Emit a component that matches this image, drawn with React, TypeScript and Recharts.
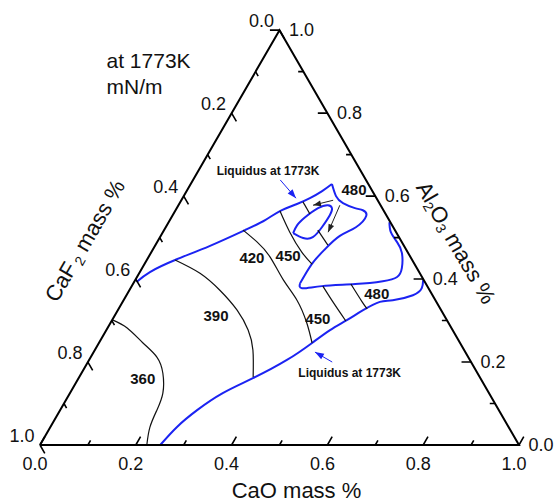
import { ComposedChart, Line, Scatter, XAxis, YAxis } from "recharts";

// [CaO, Al2O3] mass fractions, CaF2 = 1 - CaO - Al2O3
type Comp = [number, number];

const TICK_VALUES = [0, 0.1, 0.2, 0.3, 0.4, 0.5, 0.6, 0.7, 0.8, 0.9, 1.0];
const TICK_LABELS = [0, 0.2, 0.4, 0.6, 0.8, 1.0];

// liquidus at 1773K
const liquidusLower: Comp[] = [
  [0.251, 0], [0.264, 0.043], [0.286, 0.084], [0.319, 0.125], [0.364, 0.161],
  [0.413, 0.205], [0.445, 0.246], [0.467, 0.277], [0.49, 0.301], [0.512, 0.325],
  [0.537, 0.345], [0.562, 0.349], [0.598, 0.361], [0.608, 0.378], [0.601, 0.398],
];
const liquidusUpper: Comp[] = [
  [0.005, 0.393], [0.021, 0.417], [0.059, 0.446], [0.115, 0.48], [0.169, 0.518],
  [0.199, 0.542], [0.219, 0.564], [0.246, 0.581], [0.266, 0.595], [0.283, 0.612],
  [0.295, 0.629],
];
const liquidusNotch: Comp[] = [
  [0.295, 0.629], [0.318, 0.6], [0.341, 0.583], [0.372, 0.571], [0.391, 0.566],
  [0.405, 0.552], [0.397, 0.525], [0.374, 0.504], [0.359, 0.472], [0.35, 0.441],
  [0.348, 0.41], [0.348, 0.39],
];
const liquidusNotchBase: Comp[] = [
  [0.348, 0.39], [0.358, 0.378], [0.397, 0.383], [0.464, 0.388], [0.518, 0.395],
  [0.543, 0.405], [0.542, 0.427], [0.524, 0.463], [0.501, 0.489], [0.476, 0.513],
  [0.461, 0.537],
];
const liquidusIsland: Comp[] = [
  [0.273, 0.511], [0.3, 0.499], [0.319, 0.501], [0.326, 0.525], [0.328, 0.554],
  [0.324, 0.571], [0.312, 0.578], [0.295, 0.571], [0.279, 0.549], [0.272, 0.53],
  [0.273, 0.511],
];

// iso surface tension lines, mN/m
const iso360: Comp[] = [
  [0.002, 0.301], [0.041, 0.282], [0.092, 0.246], [0.138, 0.212], [0.17, 0.173],
  [0.194, 0.125], [0.202, 0.084], [0.208, 0.043], [0.223, 0],
];
const iso390: Comp[] = [
  [0.059, 0.446], [0.127, 0.414], [0.189, 0.373], [0.249, 0.325], [0.296, 0.277],
  [0.33, 0.229], [0.363, 0.164],
];
const iso420: Comp[] = [
  [0.165, 0.518], [0.209, 0.489], [0.254, 0.453], [0.309, 0.398], [0.362, 0.349],
  [0.41, 0.294], [0.445, 0.246],
];
const iso450Upper: Comp[] = [[0.219, 0.564], [0.265, 0.513], [0.314, 0.465], [0.35, 0.436]];
const iso450Lower: Comp[] = [[0.399, 0.383], [0.439, 0.345], [0.489, 0.299]];
const iso480Top: Comp[] = [[0.256, 0.586], [0.285, 0.557]];
const iso480Mid: Comp[] = [[0.321, 0.518], [0.36, 0.482]];
const iso480Lower: Comp[] = [[0.455, 0.388], [0.5, 0.345], [0.519, 0.328]];

const isoLabels: { text: string; at: Comp }[] = [
  { text: "360", at: [0.134, 0.161] },
  { text: "390", at: [0.211, 0.313] },
  { text: "420", at: [0.217, 0.451] },
  { text: "450", at: [0.289, 0.458] },
  { text: "450", at: [0.427, 0.306] },
  { text: "480", at: [0.52, 0.366] },
  { text: "480", at: [0.347, 0.617] },
];

const liquidusLabels: { text: string; at: Comp }[] = [
  { text: "Liquidus at 1773K", at: [0.146, 0.66] },
  { text: "Liquidus at 1773K", at: [0.56, 0.173] },
];

// arrows: [from, to]
const blackArrows: [Comp, Comp][] = [
  [[0.317, 0.59], [0.281, 0.578]],
  [[0.337, 0.578], [0.345, 0.513]],
];
const blueArrows: [Comp, Comp][] = [
  [[0.182, 0.639], [0.237, 0.595]],
  [[0.51, 0.2], [0.462, 0.224]],
];

const W = 557;
const H = 502;
const SIDE = 479; // triangle side in px, left corner at (40, 445)
const S3 = Math.sqrt(3) / 2;
const BLUE = "#1b23f2";
const FONT = "'Liberation Sans', Arial, sans-serif";

const toXY = (p: Comp) => ({ x: p[0] + p[1] / 2, y: p[1] * S3 });
const pts = (arr: Comp[]) => arr.map(toXY);

const TICK_MAJOR = 0.02;
const TICK_MINOR = 0.011;
const tickLen = (t: number) => (Math.round(t * 10) % 2 === 0 ? TICK_MAJOR : TICK_MINOR);

// tick segments separated by gaps
const tickSegments = (seg: (t: number, l: number) => [Comp, Comp]) =>
  TICK_VALUES.flatMap((t) => {
    const [p, q] = seg(t, tickLen(t));
    const a = toXY(p);
    const b = toXY(q);
    return [a, b, { x: b.x, y: null as unknown as number }];
  });

const bottomTicks = tickSegments((t, l) => [[t, 0], [t, l]]);
const leftTicks = tickSegments((f, l) => [[0, 1 - f], [l, 1 - f - l]]);
const rightTicks = tickSegments((a, l) => [[1 - a, a], [1 - a - l, a]]);

const frame = pts([[0, 0], [1, 0], [0, 1], [0, 0]]);

type TextStyle = {
  dx?: number;
  dy?: number;
  size: number;
  weight?: number | string;
  anchor?: "start" | "middle" | "end";
  rotate?: number;
};

const textShape = (s: TextStyle) => (p: any) => {
  const x = p.cx + (s.dx ?? 0);
  const y = p.cy + (s.dy ?? 0);
  return (
    <text
      x={x}
      y={y}
      fontSize={s.size}
      fontWeight={s.weight ?? 400}
      fontFamily={FONT}
      textAnchor={s.anchor ?? "middle"}
      dominantBaseline="central"
      fill="#111"
      transform={s.rotate ? `rotate(${s.rotate}, ${x}, ${y})` : undefined}
    >
      {p.payload.text}
    </text>
  );
};

const arrowHead = (from: Comp, to: Comp, color: string, len: number, half: number) => {
  const a = toXY(from);
  const b = toXY(to);
  const ang = (Math.atan2(-(b.y - a.y), b.x - a.x) * 180) / Math.PI;
  return (p: any) => (
    <polygon
      points={`0,0 ${-len},${-half} ${-len},${half}`}
      fill={color}
      transform={`translate(${p.cx},${p.cy}) rotate(${ang})`}
    />
  );
};

const labelData = (arr: { text: string; at: Comp }[]) =>
  arr.map((l) => ({ ...toXY(l.at), text: l.text }));

const curves: { data: Comp[]; color: string; width: number }[] = [
  { data: liquidusLower, color: BLUE, width: 2 },
  { data: liquidusUpper, color: BLUE, width: 2 },
  { data: liquidusNotch, color: BLUE, width: 2 },
  { data: liquidusNotchBase, color: BLUE, width: 2 },
  { data: liquidusIsland, color: BLUE, width: 2 },
  { data: iso360, color: "#111", width: 1.2 },
  { data: iso390, color: "#111", width: 1.2 },
  { data: iso420, color: "#111", width: 1.2 },
  { data: iso450Upper, color: "#111", width: 1.2 },
  { data: iso450Lower, color: "#111", width: 1.2 },
  { data: iso480Top, color: "#111", width: 1.2 },
  { data: iso480Mid, color: "#111", width: 1.2 },
  { data: iso480Lower, color: "#111", width: 1.2 },
];

const arrows = [
  ...blackArrows.map((a) => ({ a, color: "#222", head: arrowHead(a[0], a[1], "#222", 8, 3) })),
  ...blueArrows.map((a) => ({ a, color: BLUE, head: arrowHead(a[0], a[1], BLUE, 9, 3.2) })),
];

const TOP: Comp = [0, 1];

export default function App() {
  return (
    <div>
      <style>{"body{margin:0;background:#fff}"}</style>
      <ComposedChart width={W} height={H} margin={{ top: 0, right: 0, bottom: 0, left: 0 }}>
        <XAxis
          type="number"
          dataKey="x"
          domain={[-40 / SIDE, (W - 40) / SIDE]}
          allowDataOverflow
          hide
        />
        <YAxis
          type="number"
          dataKey="y"
          domain={[-(H - 445) / SIDE, 445 / SIDE]}
          allowDataOverflow
          hide
        />

        {curves.map((c, i) => (
          <Line
            key={`c${i}`}
            data={pts(c.data)}
            dataKey="y"
            type="natural"
            stroke={c.color}
            strokeWidth={c.width}
            dot={false}
            activeDot={false}
            isAnimationActive={false}
          />
        ))}

        {arrows.map((ar, i) => (
          <Line
            key={`a${i}`}
            data={pts(ar.a)}
            dataKey="y"
            type="linear"
            stroke={ar.color}
            strokeWidth={1}
            dot={false}
            activeDot={false}
            isAnimationActive={false}
          />
        ))}
        {arrows.map((ar, i) => (
          <Scatter
            key={`h${i}`}
            data={[toXY(ar.a[1])]}
            shape={ar.head}
            isAnimationActive={false}
          />
        ))}

        <Line
          data={frame}
          dataKey="y"
          type="linear"
          stroke="#000"
          strokeWidth={2}
          strokeLinejoin="miter"
          dot={false}
          activeDot={false}
          isAnimationActive={false}
        />
        {[bottomTicks, leftTicks, rightTicks].map((d, i) => (
          <Line
            key={`t${i}`}
            data={d}
            dataKey="y"
            type="linear"
            stroke="#000"
            strokeWidth={1.6}
            dot={false}
            activeDot={false}
            connectNulls={false}
            isAnimationActive={false}
          />
        ))}

        {/* tick labels */}
        <Scatter
          data={TICK_LABELS.map((t) => ({ ...toXY([t, 0]), text: t.toFixed(1) }))}
          shape={textShape({ dx: -5, dy: 19, size: 18 })}
          isAnimationActive={false}
        />
        <Scatter
          data={TICK_LABELS.map((f) => ({ ...toXY([0, 1 - f]), text: f.toFixed(1) }))}
          shape={textShape({ dx: -18, dy: -9, size: 18 })}
          isAnimationActive={false}
        />
        <Scatter
          data={TICK_LABELS.map((a) => ({ ...toXY([1 - a, a]), text: a.toFixed(1) }))}
          shape={textShape({ dx: 22, dy: 0, size: 18 })}
          isAnimationActive={false}
        />

        {/* contour and liquidus labels */}
        <Scatter
          data={labelData(isoLabels)}
          shape={textShape({ size: 15, weight: 700 })}
          isAnimationActive={false}
        />
        <Scatter
          data={labelData(liquidusLabels)}
          shape={textShape({ size: 12, weight: 700 })}
          isAnimationActive={false}
        />

        {/* annotation */}
        <Scatter
          data={[{ ...toXY(TOP), text: "at 1773K" }]}
          shape={textShape({ dx: -173, dy: 30, size: 21, anchor: "start" })}
          isAnimationActive={false}
        />
        <Scatter
          data={[{ ...toXY(TOP), text: "mN/m" }]}
          shape={textShape({ dx: -173, dy: 56, size: 21, anchor: "start" })}
          isAnimationActive={false}
        />

        {/* axis titles */}
        <Scatter
          data={[toXY([0.5, 0])]}
          shape={(p: any) => (
            <text x={p.cx + 17} y={p.cy + 45} fontSize={22} fontFamily={FONT} textAnchor="middle" dominantBaseline="central" fill="#111">
              CaO mass %
            </text>
          )}
          isAnimationActive={false}
        />
        <Scatter
          data={[toXY([0, 0.5])]}
          shape={(p: any) => {
            const x = p.cx - 75;
            const y = p.cy + 3;
            return (
              <text x={x} y={y} fontSize={22} fontFamily={FONT} textAnchor="middle" dominantBaseline="central" fill="#111" transform={`rotate(-60, ${x}, ${y})`}>
                CaF
                <tspan fontSize={14} dx={3} dy={6}>2</tspan>
                <tspan dy={-6}> mass %</tspan>
              </text>
            );
          }}
          isAnimationActive={false}
        />
        <Scatter
          data={[toXY([0.5, 0.5])]}
          shape={(p: any) => {
            const x = p.cx + 57;
            const y = p.cy + 5;
            return (
              <text x={x} y={y} fontSize={22} fontFamily={FONT} textAnchor="middle" dominantBaseline="central" fill="#111" transform={`rotate(60, ${x}, ${y})`}>
                Al
                <tspan fontSize={14} dy={6}>2</tspan>
                <tspan dy={-6}>O</tspan>
                <tspan fontSize={14} dy={6}>3</tspan>
                <tspan dy={-6}> mass %</tspan>
              </text>
            );
          }}
          isAnimationActive={false}
        />
      </ComposedChart>
    </div>
  );
}
